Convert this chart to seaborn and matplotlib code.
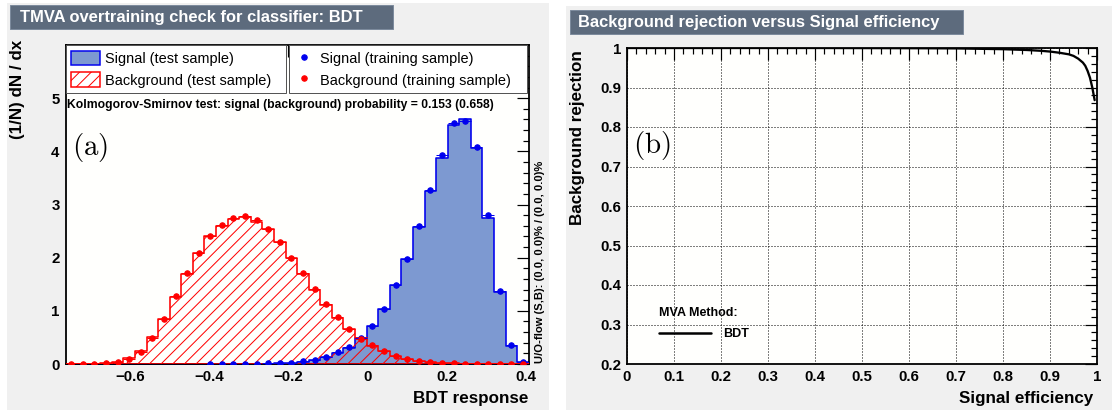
import numpy as np
import pandas as pd
import matplotlib
matplotlib.use("Agg")
import matplotlib.pyplot as plt
import seaborn as sns
from matplotlib.patches import Rectangle, Patch
from matplotlib.lines import Line2D
from matplotlib.ticker import MultipleLocator, FixedLocator, FixedFormatter

# ---------------- data ----------------
bdt_range = (-0.763, 0.407)
n_bins = 40

sig_test = [0, 0, 0, 0, 0, 0, 0, 0, 0, 0, 0, 0,
            0.002, 0.003, 0.004, 0.005, 0.006, 0.009, 0.014, 0.024, 0.045, 0.078,
            0.128, 0.21, 0.31, 0.49, 0.71, 1.03, 1.48, 1.97, 2.58, 3.26,
            3.88, 4.49, 4.60, 4.06, 2.75, 1.36, 0.34, 0.03]
sig_train = [0, 0, 0, 0, 0, 0, 0, 0, 0, 0, 0, 0,
             0.002, 0.003, 0.004, 0.005, 0.007, 0.010, 0.015, 0.025, 0.05, 0.08,
             0.13, 0.22, 0.32, 0.48, 0.72, 1.03, 1.49, 1.98, 2.59, 3.28,
             3.93, 4.53, 4.57, 4.08, 2.81, 1.37, 0.35, 0.03]
bkg_test = [0.002, 0.003, 0.008, 0.012, 0.04, 0.11, 0.25, 0.50, 0.85, 1.26,
            1.69, 2.09, 2.41, 2.60, 2.72, 2.77, 2.68, 2.53, 2.29, 1.99,
            1.70, 1.40, 1.11, 0.87, 0.66, 0.48, 0.34, 0.24, 0.15, 0.09,
            0.05, 0.03, 0.02, 0.012, 0.008, 0.005, 0.003, 0.002, 0.001, 0.0]
bkg_train = [0.002, 0.003, 0.008, 0.012, 0.045, 0.10, 0.23, 0.49, 0.85, 1.27,
             1.71, 2.09, 2.40, 2.62, 2.74, 2.78, 2.70, 2.53, 2.30, 2.00,
             1.71, 1.41, 1.12, 0.88, 0.66, 0.47, 0.35, 0.24, 0.15, 0.09,
             0.05, 0.03, 0.02, 0.01, 0.008, 0.006, 0.004, 0.003, 0.002, 0.001]

roc_eff = [0.0, 0.1, 0.2, 0.3, 0.4, 0.5, 0.6, 0.7, 0.75, 0.8, 0.85, 0.88, 0.9,
           0.92, 0.94, 0.95, 0.96, 0.97, 0.975, 0.98, 0.985, 0.99, 0.995]
roc_rej = [1.0, 1.0, 1.0, 1.0, 1.0, 0.9998, 0.9995, 0.999, 0.998, 0.997, 0.995,
           0.993, 0.991, 0.988, 0.984, 0.980, 0.973, 0.963, 0.955, 0.942, 0.925,
           0.900, 0.868]

left_xticks = [-0.6, -0.4, -0.2, 0.0, 0.2, 0.4]
left_xticklabels = ["\u22120.6", "\u22120.4", "\u22120.2", "0", "0.2", "0.4"]
left_yticks = [0, 1, 2, 3, 4, 5]
left_yticklabels = ["0", "1", "2", "3", "4", "5"]
roc_xticks = [0.0, 0.1, 0.2, 0.3, 0.4, 0.5, 0.6, 0.7, 0.8, 0.9, 1.0]
roc_xticklabels = ["0", "0.1", "0.2", "0.3", "0.4", "0.5", "0.6", "0.7", "0.8", "0.9", "1"]
roc_yticks = [0.2, 0.3, 0.4, 0.5, 0.6, 0.7, 0.8, 0.9, 1.0]
roc_yticklabels = ["0.2", "0.3", "0.4", "0.5", "0.6", "0.7", "0.8", "0.9", "1"]

# ---------------- style ----------------
DPI = 70          # hatch '//' then gives ~11.7 px spacing like the reference
W, H = 1116, 412


def pt(px):
    return px * 72.0 / DPI


C_CANVAS = "#f0f0f0"
C_FRAME = "#fffffd"
C_TITLEBOX = "#5d6b7d"
C_TITLEBORDER = "#7d8b9d"
C_SIGLINE = "#0000ee"
C_SIGFILL = "#7d99d1"
C_BKG = "#ff0000"

sns.set_theme(style="white")
plt.rcParams["font.family"] = ["Liberation Sans", "DejaVu Sans"]
plt.rcParams["font.weight"] = "bold"
plt.rcParams["mathtext.fontset"] = "cm"
plt.rcParams["hatch.linewidth"] = pt(1.0)
plt.rcParams["hatch.color"] = C_BKG
plt.rcParams["axes.linewidth"] = pt(1.8)
plt.rcParams["axes.edgecolor"] = "black"
plt.rcParams["text.color"] = "black"
plt.rcParams["xtick.color"] = "black"
plt.rcParams["ytick.color"] = "black"

fig = plt.figure(figsize=(W / DPI, H / DPI), dpi=DPI, facecolor="white")


def frect(x0, y0, x1, y1, **kw):
    r = Rectangle((x0 / W, 1 - y1 / H), (x1 - x0) / W, (y1 - y0) / H,
                  transform=fig.transFigure, **kw)
    fig.patches.append(r)


# pads and title boxes (behind the axes)
frect(7, 3, 549, 410, facecolor=C_CANVAS, edgecolor="none", zorder=-3)
frect(566, 6, 1112, 410, facecolor=C_CANVAS, edgecolor="none", zorder=-3)
frect(10, 5, 393, 29, facecolor=C_TITLEBOX, edgecolor=C_TITLEBORDER, lw=pt(1), zorder=-2)
frect(570, 10, 963, 34, facecolor=C_TITLEBOX, edgecolor=C_TITLEBORDER, lw=pt(1), zorder=-2)
fig.text(20 / W, 1 - 17.5 / H, "TMVA overtraining check for classifier: BDT",
         color="white", fontsize=pt(16.5), weight="bold", ha="left", va="center")
fig.text(578 / W, 1 - 22.5 / H, "Background rejection versus Signal efficiency",
         color="white", fontsize=pt(16.5), weight="bold", ha="left", va="center")

# ---------------- left panel ----------------
ax = fig.add_axes([65.5 / W, 1 - 364 / H, 463.3 / W, 319 / H])
ax.set_facecolor(C_FRAME)

edges = np.linspace(bdt_range[0], bdt_range[1], n_bins + 1)
centers = 0.5 * (edges[:-1] + edges[1:])
binw = edges[1] - edges[0]

df = pd.DataFrame({"x": centers, "sig_test": sig_test, "bkg_test": bkg_test,
                   "sig_train": sig_train, "bkg_train": bkg_train})

sns.histplot(data=df, x="x", weights="sig_test", bins=n_bins, binrange=bdt_range,
             element="step", fill=True, stat="count", color=C_SIGFILL,
             facecolor=C_SIGFILL, edgecolor=C_SIGLINE, linewidth=pt(1.6), alpha=1,
             ax=ax, zorder=2)
sns.histplot(data=df, x="x", weights="bkg_test", bins=n_bins, binrange=bdt_range,
             element="step", fill=True, stat="count", color=C_BKG, facecolor="none",
             edgecolor=C_BKG, hatch="//", linewidth=pt(1.6), alpha=1, ax=ax, zorder=3)

for col, colr in (("sig_train", C_SIGLINE), ("bkg_train", C_BKG)):
    sub = df[df[col] > 0]
    ax.errorbar(sub["x"], sub[col], xerr=binw / 2, fmt="o", color=colr,
                ms=pt(5.5), elinewidth=pt(1), capsize=0, zorder=4)

ax.set_xlim(*bdt_range)
ax.set_ylim(0, 6.0)
ax.set_xlabel("")
ax.set_ylabel("")
ax.xaxis.set_major_locator(FixedLocator(left_xticks))
ax.xaxis.set_major_formatter(FixedFormatter(left_xticklabels))
ax.xaxis.set_minor_locator(MultipleLocator(0.05))
ax.yaxis.set_major_locator(FixedLocator(left_yticks))
ax.yaxis.set_major_formatter(FixedFormatter(left_yticklabels))
ax.yaxis.set_minor_locator(MultipleLocator(0.2))

ax.tick_params(which="both", direction="in", top=True, right=True,
               width=pt(1.2), labelsize=pt(15), pad=pt(6))
ax.tick_params(which="major", length=pt(12))
ax.tick_params(which="minor", length=pt(6))

h1 = Patch(facecolor=C_SIGFILL, edgecolor=C_SIGLINE, linewidth=pt(1.5))
h2 = Patch(facecolor="none", edgecolor=C_BKG, hatch="//", linewidth=pt(1.5))
leg_kw = dict(loc="upper left", mode="expand", borderaxespad=0,
              prop={"size": pt(14.5), "weight": "normal"}, labelspacing=0.45,
              borderpad=0.4, fancybox=False, framealpha=1, edgecolor="#555555",
              facecolor="white")
leg1 = ax.legend([h1, h2], ["Signal (test sample)", "Background (test sample)"],
                 bbox_to_anchor=(0.0, 0.0, 0.476, 1.0), handlelength=2.0,
                 handleheight=1.15, handletextpad=0.35, **leg_kw)
leg1.get_frame().set_linewidth(pt(1))
ax.add_artist(leg1)
m1 = Line2D([], [], marker="o", ls="none", color=C_SIGLINE, ms=pt(5.5))
m2 = Line2D([], [], marker="o", ls="none", color=C_BKG, ms=pt(5.5))
leg2 = ax.legend([m1, m2], ["Signal (training sample)", "Background (training sample)"],
                 bbox_to_anchor=(0.4824, 0.0, 0.5136, 1.0), handlelength=1.25,
                 handleheight=1.15, handletextpad=0.5, **leg_kw)
leg2.get_frame().set_linewidth(pt(1))

ax.text(0.004, 0.812,
        "Kolmogorov-Smirnov test: signal (background) probability = 0.153 (0.658)",
        transform=ax.transAxes, fontsize=pt(12.1), weight="bold", ha="left",
        va="center", zorder=6)
ax.text(0.014, 0.68, r"$\mathrm{(a)}$", transform=ax.transAxes, fontsize=pt(29),
        ha="left", va="center", zorder=6)

fig.text(18 / W, 1 - 40 / H, "(1/N) dN / dx", rotation=90, ha="center", va="top",
         fontsize=pt(17), weight="bold")
fig.text(528.5 / W, 1 - 398 / H, "BDT response", ha="right", va="center",
         fontsize=pt(17), weight="bold")
fig.text(540 / W, 1 - 363 / H, "U/O-flow (S,B): (0.0, 0.0)% / (0.0, 0.0)%",
         rotation=90, ha="center", va="bottom", fontsize=pt(11.2), weight="bold")

# ---------------- right panel ----------------
ax2 = fig.add_axes([627 / W, 1 - 364 / H, 470 / W, 316 / H])
ax2.set_facecolor(C_FRAME)
sns.lineplot(x=roc_eff, y=roc_rej, color="black", linewidth=pt(2.3), ax=ax2, zorder=5)
ax2.set_xlim(0, 1)
ax2.set_ylim(0.2, 1.0)
ax2.set_xlabel("")
ax2.set_ylabel("")
ax2.xaxis.set_major_locator(FixedLocator(roc_xticks))
ax2.xaxis.set_major_formatter(FixedFormatter(roc_xticklabels))
ax2.xaxis.set_minor_locator(MultipleLocator(0.02))
ax2.yaxis.set_major_locator(FixedLocator(roc_yticks))
ax2.yaxis.set_major_formatter(FixedFormatter(roc_yticklabels))
ax2.yaxis.set_minor_locator(MultipleLocator(0.02))
ax2.tick_params(which="both", direction="in", top=True, right=True,
                width=pt(1.2), labelsize=pt(15), pad=pt(6))
ax2.tick_params(which="major", length=pt(12))
ax2.tick_params(which="minor", length=pt(6))
ax2.grid(True, which="major", color="black", linestyle=(0, (1, 2)), linewidth=pt(1))

hroc = Line2D([], [], color="black", lw=pt(2.5))
leg3 = ax2.legend([hroc], ["BDT"], title="MVA Method:", loc="upper left",
                  bbox_to_anchor=(0.068, 0.180), borderaxespad=0, borderpad=0,
                  frameon=False, prop={"size": pt(12.5), "weight": "bold"},
                  title_fontproperties={"size": pt(12.5), "weight": "bold"},
                  handlelength=4.2, handletextpad=0.95, labelspacing=0.75,
                  alignment="left")

ax2.text(0.012, 0.69, r"$\mathrm{(b)}$", transform=ax2.transAxes, fontsize=pt(29),
         ha="left", va="center", zorder=6)

fig.text(578 / W, 1 - 50 / H, "Background rejection", rotation=90, ha="center",
         va="top", fontsize=pt(17), weight="bold")
fig.text(1093 / W, 1 - 399 / H, "Signal efficiency", ha="right", va="center",
         fontsize=pt(17), weight="bold")

fig.savefig("out.png", dpi=DPI, facecolor="white")
